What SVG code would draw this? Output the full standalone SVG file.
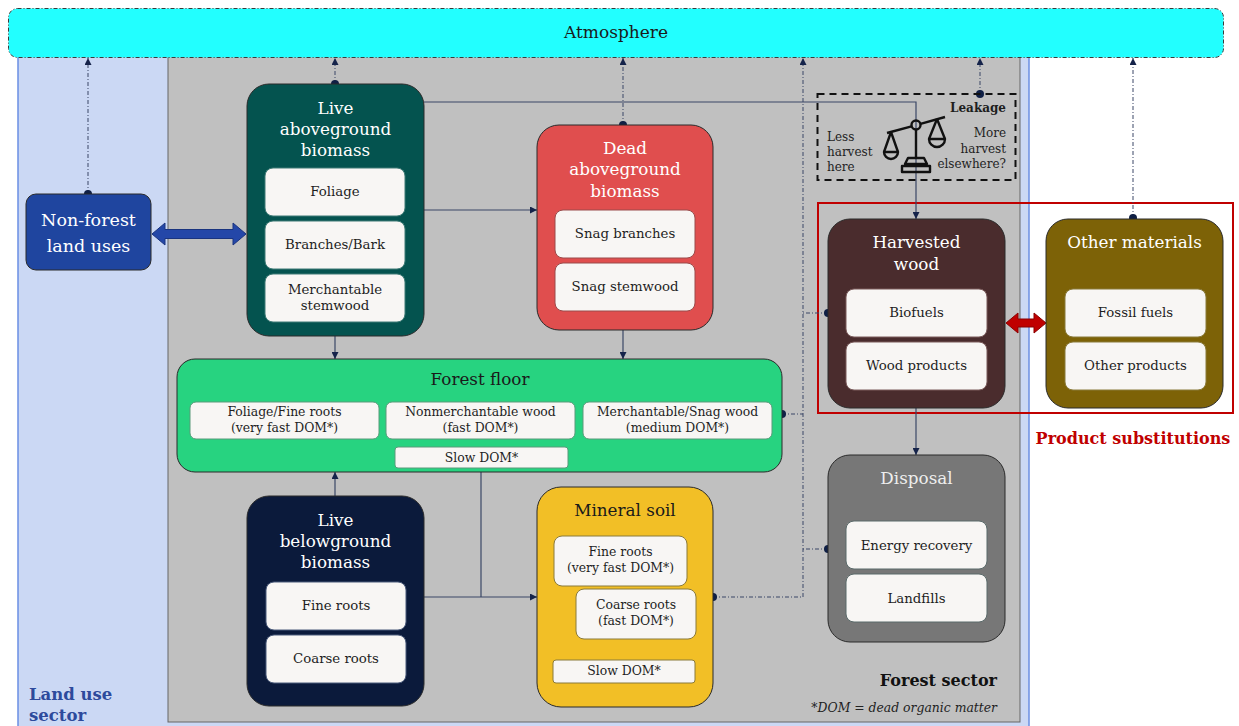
<svg xmlns="http://www.w3.org/2000/svg" width="1239" height="726" viewBox="0 0 1239 726">
<style>
text{font-family:"DejaVu Serif","Liberation Serif",serif;}
.t{font-size:16.8px;fill:#ffffff;text-anchor:middle;}
.td{font-size:16.8px;fill:#1a1a1a;text-anchor:middle;}
.s{font-size:13.3px;fill:#1e1e1e;text-anchor:middle;}
.ss{font-size:12.4px;fill:#1e1e1e;text-anchor:middle;}
.sub{fill:#f8f6f4;stroke-width:1;}
.node{stroke:#2a2a2a;stroke-width:1;}
.con{fill:none;stroke:#3a4766;stroke-width:1.2;}
.dot{fill:none;stroke:#3a4766;stroke-width:1;stroke-dasharray:4 2 1 2;}
.pt{fill:#0f1f45;}
.lk{font-size:12px;fill:#1e1e1e;}
.ic{fill:none;stroke:#111;stroke-width:2.4;stroke-linejoin:round;}
</style>
<defs>
<marker id="arr" viewBox="0 0 10 10" refX="10" refY="5" markerWidth="7" markerHeight="7" markerUnits="userSpaceOnUse" orient="auto">
<path d="M0,0 L10,5 L0,10 Z" fill="#15234a"/>
</marker>
</defs>

<!-- background sectors -->
<rect id="land-use-sector" x="18" y="48" width="1011" height="690" fill="#cbd8f4" stroke="#6b8fe3" stroke-width="1.5"/>
<rect id="forest-sector" x="168" y="50" width="852" height="672" fill="#c0c0c0" stroke="#666666" stroke-width="1"/>
<text x="29" y="700" style="font-size:16.5px;font-weight:bold;fill:#2d4a9c;">Land use</text>
<text x="29" y="721" style="font-size:16.5px;font-weight:bold;fill:#2d4a9c;">sector</text>
<text x="997" y="686" style="font-size:16px;font-weight:bold;fill:#111;text-anchor:end;">Forest sector</text>
<text x="997" y="712" style="font-size:12.4px;font-style:italic;fill:#222;text-anchor:end;">*DOM = dead organic matter</text>

<!-- atmosphere -->
<g id="atmosphere">
<rect x="8.5" y="8.5" width="1215" height="49" rx="9" fill="#22ffff" stroke="#3a3a3a" stroke-width="1" stroke-dasharray="4 2 1 2"/>
<text x="616" y="38" style="font-size:17px;fill:#1a1a1a;text-anchor:middle;">Atmosphere</text>
</g>

<!-- product substitution frame -->
<g id="product-substitutions">
<rect x="818" y="203" width="415" height="210" fill="none" stroke="#c00000" stroke-width="2"/>
<text x="1133" y="444" style="font-size:16px;font-weight:bold;fill:#c00000;text-anchor:middle;">Product substitutions</text>
</g>

<!-- connectors -->
<g id="connectors">
<line class="dot" x1="88" y1="194" x2="88" y2="58" marker-end="url(#arr)"/>
<line class="dot" x1="335" y1="84" x2="335" y2="58" marker-end="url(#arr)"/>
<line class="dot" x1="623" y1="125" x2="623" y2="58" marker-end="url(#arr)"/>
<polyline class="dot" points="713,597 803,597 803,58" marker-end="url(#arr)"/>
<line class="dot" x1="782" y1="414" x2="803" y2="414"/>
<line class="dot" x1="828" y1="313" x2="803" y2="313"/>
<line class="dot" x1="828" y1="549" x2="803" y2="549"/>
<line class="dot" x1="980" y1="94" x2="980" y2="58" marker-end="url(#arr)"/>
<line class="dot" x1="1133" y1="218" x2="1133" y2="58" marker-end="url(#arr)"/>
<circle class="pt" cx="88" cy="194" r="4"/>
<circle class="pt" cx="335" cy="84" r="4"/>
<circle class="pt" cx="623" cy="125" r="4"/>
<circle class="pt" cx="713" cy="597" r="4"/>
<circle class="pt" cx="782" cy="414" r="4"/>
<circle class="pt" cx="828" cy="313" r="4"/>
<circle class="pt" cx="828" cy="549" r="4"/>
<circle class="pt" cx="980" cy="94" r="4"/>
<circle class="pt" cx="1133" cy="218" r="4"/>
<polyline class="con" points="424,102 916,102 916,219" marker-end="url(#arr)"/>
<line class="con" x1="424" y1="210" x2="537" y2="210" marker-end="url(#arr)"/>
<line class="con" x1="335" y1="336" x2="335" y2="359" marker-end="url(#arr)"/>
<line class="con" x1="623" y1="330" x2="623" y2="359" marker-end="url(#arr)"/>
<line class="con" x1="335" y1="496" x2="335" y2="472" marker-end="url(#arr)"/>
<polyline class="con" points="481,468 481,597"/>
<line class="con" x1="424" y1="597" x2="537" y2="597" marker-end="url(#arr)"/>
<line class="con" x1="916" y1="408" x2="916" y2="455" marker-end="url(#arr)"/>
<line class="con" x1="288" y1="439" x2="395" y2="457" marker-end="url(#arr)"/>
<line class="con" x1="481" y1="439" x2="481" y2="447" marker-end="url(#arr)"/>
<line class="con" x1="672" y1="439" x2="568" y2="457" marker-end="url(#arr)"/>
<line class="con" x1="564" y1="586" x2="564" y2="660" marker-end="url(#arr)"/>
<line class="con" x1="677" y1="639" x2="677" y2="660" marker-end="url(#arr)"/>
<polygon points="152,234 165,223 165,229.5 233,229.5 233,223 246,234 233,245 233,238.5 165,238.5 165,245" fill="#2447a8" stroke="#1a347f" stroke-width="1"/>
<polygon points="1006,323 1018,313 1018,319 1034,319 1034,313 1046,323 1034,333 1034,327 1018,327 1018,333" fill="#c00000" stroke="#8a0000" stroke-width="1"/>
</g>

<!-- leakage -->
<g id="leakage">
<rect x="817.5" y="94" width="198" height="86" fill="none" stroke="#111" stroke-width="2" stroke-dasharray="7 5"/>
<text x="1006" y="112" class="lk" style="font-weight:bold;text-anchor:end;">Leakage</text>
<text x="827" y="141" class="lk">Less</text>
<text x="827" y="156" class="lk">harvest</text>
<text x="827" y="171" class="lk">here</text>
<text x="1006" y="137" class="lk" style="text-anchor:end;">More</text>
<text x="1006" y="153" class="lk" style="text-anchor:end;">harvest</text>
<text x="1006" y="168" class="lk" style="text-anchor:end;">elsewhere?</text>
<g class="ic">
<line x1="916" y1="130" x2="916" y2="158"/>
<circle cx="916" cy="125" r="4.5"/>
<line x1="887" y1="133" x2="911.5" y2="126.3"/>
<line x1="920.5" y1="123.8" x2="945" y2="117"/>
<path d="M891,132 L884,152 M891,132 L898,152"/>
<path d="M884,152 A7,7 0 0 0 898,152 Z"/>
<path d="M937,119 L929,139 M937,119 L945,139"/>
<path d="M929,139 A8,8 0 0 0 945,139 Z"/>
<path d="M908,158 L924,158 L927,164 L905,164 Z"/>
<rect x="902" y="166" width="28" height="6"/>
</g>
</g>

<g id="non-forest">
<rect class="node" x="26" y="194" width="125" height="76" rx="10" fill="#1f459f"/>
<text class="t" x="88.5" y="226" style="font-size:17.5px;">Non-forest</text>
<text class="t" x="88.5" y="252" style="font-size:17.5px;">land uses</text>
</g>

<g id="live-aboveground">
<rect class="node" x="247" y="84" width="177" height="252" rx="22" fill="#04534f"/>
<text class="t" x="335.5" y="114">Live</text>
<text class="t" x="335.5" y="135">aboveground</text>
<text class="t" x="335.5" y="156">biomass</text>
<rect class="sub" x="265" y="168" width="140" height="48" rx="8" stroke="#3f7b76"/>
<rect class="sub" x="265" y="221" width="140" height="48" rx="8" stroke="#3f7b76"/>
<rect class="sub" x="265" y="274" width="140" height="48" rx="8" stroke="#3f7b76"/>
<text class="s" x="335" y="196">Foliage</text>
<text class="s" x="335" y="249">Branches/Bark</text>
<text class="s" x="335" y="294">Merchantable</text>
<text class="s" x="335" y="310">stemwood</text>
</g>

<g id="dead-aboveground">
<rect class="node" x="537" y="125" width="176" height="205" rx="22" fill="#e04e4e"/>
<text class="t" x="625" y="154">Dead</text>
<text class="t" x="625" y="175">aboveground</text>
<text class="t" x="625" y="197">biomass</text>
<rect class="sub" x="555" y="210" width="140" height="48" rx="8" stroke="#9a4a4a"/>
<rect class="sub" x="555" y="263" width="140" height="48" rx="8" stroke="#9a4a4a"/>
<text class="s" x="625" y="238">Snag branches</text>
<text class="s" x="625" y="291">Snag stemwood</text>
</g>

<g id="harvested-wood">
<rect class="node" x="828" y="219" width="177" height="189" rx="22" fill="#4a2c2d"/>
<text class="t" x="916.5" y="248">Harvested</text>
<text class="t" x="916.5" y="270">wood</text>
<rect class="sub" x="846" y="289" width="141" height="48" rx="8" stroke="#7a5a5a"/>
<rect class="sub" x="846" y="342" width="141" height="48" rx="8" stroke="#7a5a5a"/>
<text class="s" x="916.5" y="317">Biofuels</text>
<text class="s" x="916.5" y="370">Wood products</text>
</g>

<g id="other-materials">
<rect class="node" x="1046" y="219" width="177" height="189" rx="22" fill="#7d6207"/>
<text class="t" x="1134.5" y="248">Other materials</text>
<rect class="sub" x="1065" y="289" width="141" height="48" rx="8" stroke="#8a7a3a"/>
<rect class="sub" x="1065" y="342" width="141" height="48" rx="8" stroke="#8a7a3a"/>
<text class="s" x="1135.5" y="317">Fossil fuels</text>
<text class="s" x="1135.5" y="370">Other products</text>
</g>

<g id="forest-floor">
<rect class="node" x="177" y="359" width="605" height="113" rx="18" fill="#27d380"/>
<text class="td" x="480" y="385">Forest floor</text>
<rect class="sub" x="190" y="402" width="189" height="37" rx="6" stroke="#5a9a7a"/>
<rect class="sub" x="386" y="402" width="189" height="37" rx="6" stroke="#5a9a7a"/>
<rect class="sub" x="583" y="402" width="189" height="37" rx="6" stroke="#5a9a7a"/>
<text class="ss" x="284.5" y="416">Foliage/Fine roots</text>
<text class="ss" x="284.5" y="432">(very fast DOM*)</text>
<text class="ss" x="480.5" y="416">Nonmerchantable wood</text>
<text class="ss" x="480.5" y="432">(fast DOM*)</text>
<text class="ss" x="677.5" y="416">Merchantable/Snag wood</text>
<text class="ss" x="677.5" y="432">(medium DOM*)</text>
<rect class="sub" x="395" y="447" width="173" height="21" rx="3" stroke="#5a9a7a"/>
<text class="ss" x="481.5" y="462">Slow DOM*</text>
</g>

<g id="live-belowground">
<rect class="node" x="247" y="496" width="177" height="210" rx="22" fill="#0b1a3b"/>
<text class="t" x="335.5" y="526">Live</text>
<text class="t" x="335.5" y="547">belowground</text>
<text class="t" x="335.5" y="568">biomass</text>
<rect class="sub" x="266" y="582" width="140" height="48" rx="8" stroke="#4a5a7a"/>
<rect class="sub" x="266" y="635" width="140" height="48" rx="8" stroke="#4a5a7a"/>
<text class="s" x="336" y="610">Fine roots</text>
<text class="s" x="336" y="663">Coarse roots</text>
</g>

<g id="mineral-soil">
<rect class="node" x="537" y="487" width="176" height="220" rx="24" fill="#f2bf26"/>
<text class="td" x="625" y="516">Mineral soil</text>
<rect class="sub" x="554" y="536" width="133" height="50" rx="8" stroke="#8a7a3a"/>
<text class="ss" x="620.5" y="556">Fine roots</text>
<text class="ss" x="620.5" y="572">(very fast DOM*)</text>
<rect class="sub" x="576" y="589" width="120" height="50" rx="8" stroke="#8a7a3a"/>
<text class="ss" x="636" y="609">Coarse roots</text>
<text class="ss" x="636" y="625">(fast DOM*)</text>
<rect class="sub" x="553" y="660" width="142" height="23" rx="3" stroke="#8a7a3a"/>
<text class="ss" x="624" y="675">Slow DOM*</text>
</g>

<g id="disposal">
<rect class="node" x="828" y="455" width="177" height="187" rx="22" fill="#777777"/>
<text class="t" x="916.5" y="484" style="fill:#eeeeee;">Disposal</text>
<rect class="sub" x="846" y="521" width="141" height="48" rx="8" stroke="#5a6a6a"/>
<rect class="sub" x="846" y="574" width="141" height="48" rx="8" stroke="#5a6a6a"/>
<text class="s" x="916.5" y="550">Energy recovery</text>
<text class="s" x="916.5" y="603">Landfills</text>
</g>
</svg>
